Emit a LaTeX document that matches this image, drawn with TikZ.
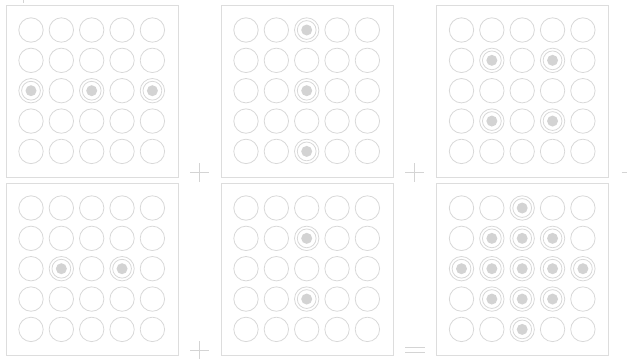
\documentclass[tikz,border=0pt]{standalone}
\definecolor{ringc}{HTML}{D8D8D8}
\definecolor{boxc}{HTML}{DDDDDD}
\definecolor{dotc}{HTML}{D3D3D3}
\definecolor{signc}{HTML}{D4D4D4}
\tikzset{
  panelbox/.style={rectangle, draw=boxc, line width=0.9pt, minimum size=172pt, inner sep=0pt},
  cell/.style={circle, draw=ringc, line width=0.8pt, minimum size=24.4pt, inner sep=0pt},
  innerring/.style={draw=ringc, line width=0.8pt},
  dotfill/.style={fill=dotc},
  sign/.style={draw=signc, line width=0.9pt}
}
\newcommand\mypanel[4]{%
  \node[panelbox] (#1) at (#2+86,#3+86) {};
  \foreach \r in {0,...,4}{
    \foreach \c in {0,...,4}{
      \node[cell] (#1-\r-\c) at (#2+25+30.35*\c, #3+25+30.35*\r) {};
    }
  }
  \foreach \r/\c in {#4}{
    \draw[innerring] (#1-\r-\c.center) circle (9.4pt);
    \fill[dotfill] (#1-\r-\c.center) circle (5.5pt);
  }
}
\begin{document}
\begin{tikzpicture}[x=1pt,y=-1pt]
\useasboundingbox (0,0) rectangle (627,359);
\mypanel{pA}{6}{5}{2/0,2/2,2/4}
\mypanel{pB}{221}{5}{0/2,2/2,4/2}
\mypanel{pC}{436.5}{5}{1/1,1/3,3/1,3/3}
\mypanel{pD}{6}{183}{2/1,2/3}
\mypanel{pE}{221}{183}{1/2,3/2}
\mypanel{pF}{436.5}{183}{0/2,1/1,1/2,1/3,2/0,2/1,2/2,2/3,2/4,3/1,3/2,3/3,4/2}
% plus signs
\coordinate (s1) at (199.5,172);
\coordinate (s2) at (414.5,172);
\coordinate (s3) at (631,172);
\coordinate (s4) at (199.5,350.7);
\coordinate (s5) at (415,350);
\foreach \s in {s1,s2,s3,s4}{
  \draw[sign] ([xshift=-9.5pt]\s) -- ([xshift=9.5pt]\s);
  \draw[sign] ([yshift=-9.5pt]\s) -- ([yshift=9.5pt]\s);
}
\draw[sign] ([xshift=-10pt,yshift=2.7pt]s5) -- ([xshift=10pt,yshift=2.7pt]s5);
\draw[sign] ([xshift=-10pt,yshift=-2.7pt]s5) -- ([xshift=10pt,yshift=-2.7pt]s5);
\coordinate (t1) at (23,0);
\coordinate (t2) at (23,2.6);
\draw[sign] (t1) -- (t2);
\end{tikzpicture}
\end{document}
